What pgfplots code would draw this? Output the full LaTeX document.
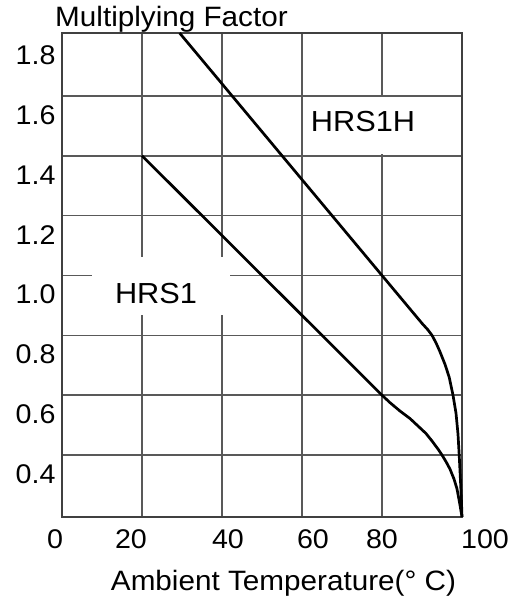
\documentclass[border=0pt]{standalone}
\usepackage{fontspec}
\setmainfont{Liberation Sans}[FakeStretch=1.06]
\usepackage{pgfplots}
\pgfplotsset{compat=1.18}
% shift a tick label sideways by #1
\newcommand\sh[2]{\hspace*{#1}\hspace*{#1}\makebox[0pt]{#2}}

\begin{document}
\begin{tikzpicture}
\path[use as bounding box] (-62bp,-84bp) rectangle (463bp,517bp);
\begin{axis}[
    at={(0,0)}, anchor=south west,
    scale only axis, width=400bp, height=484bp,
    xmin=0, xmax=100, ymin=0.193, ymax=1.81,
    xtick={0,20,40,60,80,100},
    xticklabels={\sh{-7bp}{0},\sh{-11bp}{20},\sh{6bp}{40},\sh{11bp}{60},\sh{0bp}{80},\sh{23bp}{100}},
    ytick={0.4,0.6,0.8,1.0,1.2,1.4,1.6},
    yticklabels={0.4,0.6,0.8,1.0,1.2,1.4,1.6},
    extra y ticks={1.8}, extra y tick labels={1.8},
    extra y tick style={grid=none},
    grid=major,
    grid style={black!65, line width=1.6bp},
    axis line style={black!75, line width=1.6bp},
    major tick length=0pt,
    tick label style={font=\fontsize{27bp}{31bp}\selectfont},
    xticklabel style={yshift=-9bp},
    yticklabel style={yshift=-19bp, xshift=-3bp},
    clip=false,
]
    % white patches behind the curve names
    \fill[white] (axis cs:7.5,0.868) rectangle (axis cs:42,1.063);
    \fill[white] (axis cs:61,1.405) rectangle (axis cs:98,1.595);
    \node[font=\fontsize{29bp}{33bp}\selectfont, inner sep=0] at (axis cs:23.5,0.94) {HRS1};
    \node[font=\fontsize{29bp}{33bp}\selectfont, inner sep=0] at (axis cs:75.25,1.513) {HRS1H};

    % HRS1H
    \addplot[black, line width=2.7bp, line join=round] table {
        29.4 1.81
        80 1.0
        88 0.872
        90 0.840
        91.5 0.818
        92.5 0.800
        93.5 0.775
        94.5 0.745
        95.75 0.703
        96.8 0.660
        97.75 0.600
        98.5 0.540
        99 0.470
        99.3 0.400
        99.6 0.320
        99.85 0.250
        100 0.193
    };
    % HRS1
    \addplot[black, line width=2.7bp, line join=round] table {
        20 1.4
        80 0.6
        82 0.575
        84.5 0.547
        87 0.522
        89 0.497
        91 0.472
        92.5 0.447
        94 0.420
        95 0.400
        96 0.378
        97 0.353
        98 0.320
        98.75 0.287
        99.4 0.240
        100 0.193
    };
\end{axis}
\node[anchor=base west, inner sep=0, font=\fontsize{28bp}{32bp}\selectfont] at (-7bp,490bp) {Multiplying Factor};
\node[anchor=base, inner sep=0, font=\fontsize{28bp}{32bp}\selectfont] at (221.5bp,-73bp) {Ambient Temperature(° C)};
\end{tikzpicture}
\end{document}
